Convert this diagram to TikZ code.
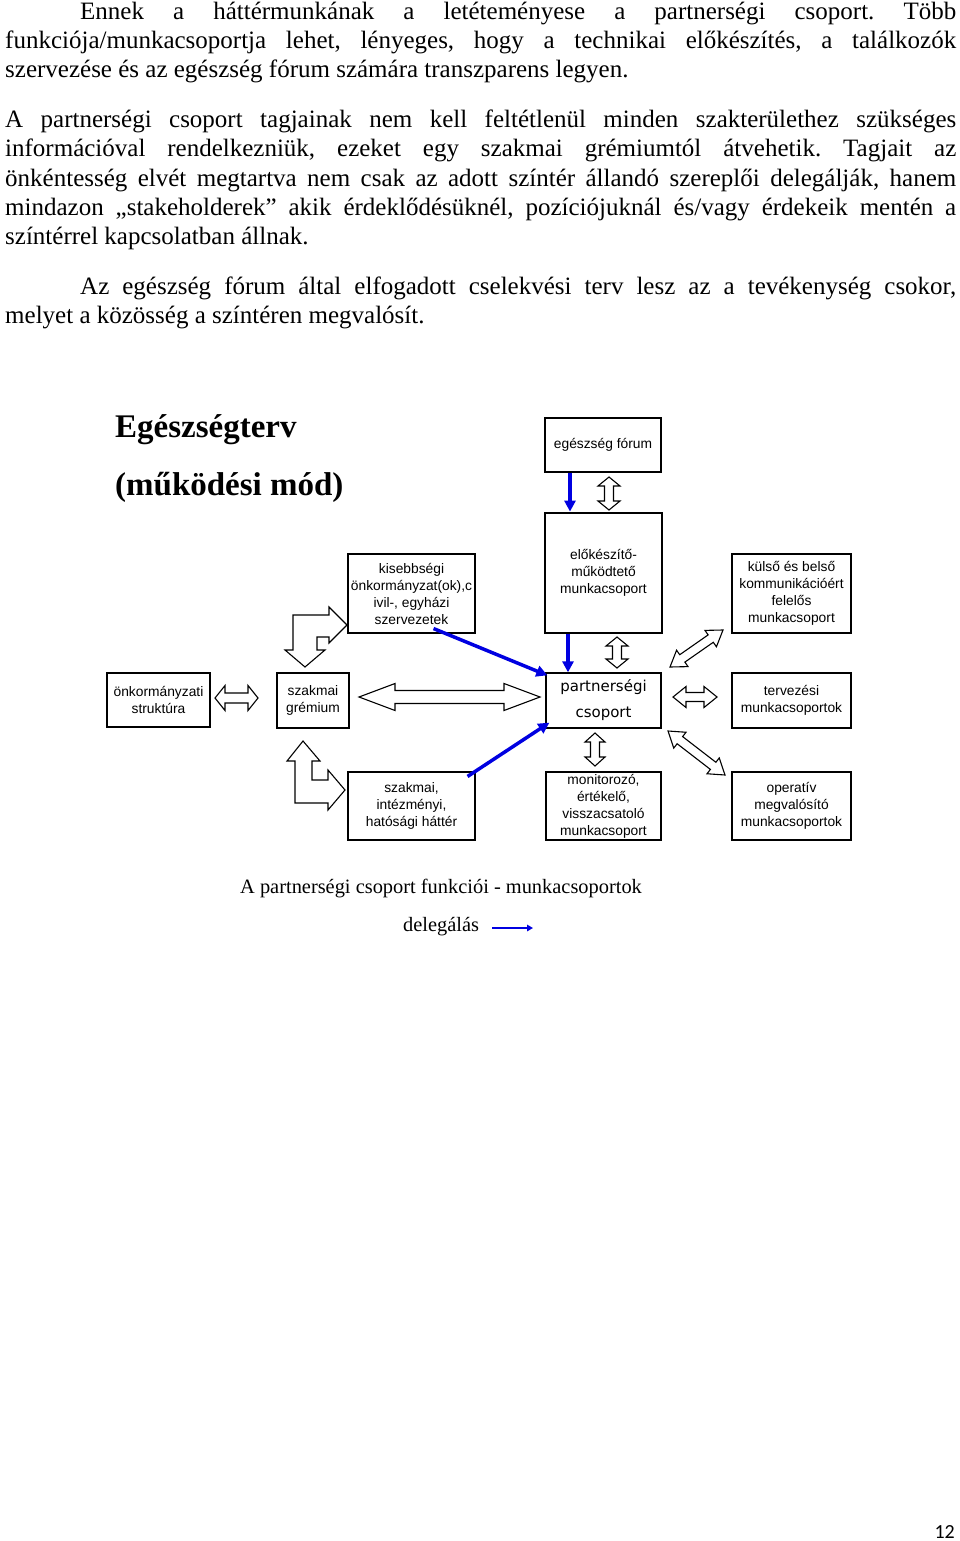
\documentclass[tikz,border=0pt]{standalone}
\usepackage{fontspec}
\setmainfont{Liberation Serif}
\newfontfamily\arialf{Liberation Sans}
\newfontfamily\comicf{DejaVu Sans}
\newfontfamily\calibf{Carlito}
\usetikzlibrary{calc,arrows.meta}
\definecolor{delblue}{RGB}{0,0,225}
\frenchspacing
\newcommand{\bodyf}{\fontsize{25}{29}\selectfont}
\newcommand{\hollowdbl}[5]{%
  \coordinate (hdA) at ($(#1)!#3!(#2)$);
  \coordinate (hdB) at ($(#2)!#3!(#1)$);
  \draw[hollow] (#1) -- ($(hdA)!#4!90:(#2)$) -- ($(hdA)!#5!90:(#2)$)
    -- ($(hdB)!#5!-90:(#1)$) -- ($(hdB)!#4!-90:(#1)$) -- (#2)
    -- ($(hdB)!#4!90:(#1)$) -- ($(hdB)!#5!90:(#1)$)
    -- ($(hdA)!#5!-90:(#2)$) -- ($(hdA)!#4!-90:(#2)$) -- cycle;
}
\tikzset{
  box/.style={draw, line width=1.1pt, inner sep=0pt, align=center,
    font=\arialf\fontsize{13.8}{17}\selectfont},
  thickbox/.style={box, line width=2.8pt},
  hollow/.style={draw, fill=white, line width=1.1pt, line join=miter},
  deleg/.style={draw=delblue, line width=3.5pt, -{Triangle[length=11pt,width=11pt]}, delblue},
  legarrow/.style={draw=delblue, line width=2.2pt, -{Triangle[length=6pt,width=6.5pt]}, delblue},
  bodyline/.style={anchor=base west, inner sep=0pt, font=\bodyf},
}
\begin{document}
\begin{tikzpicture}[x=1pt,y=-1pt]
\useasboundingbox[fill=white] (0,0) rectangle (960,1541);

% body text
\node[bodyline] (l1) at (80,20) {\makebox[876pt][s]{Ennek a háttérmunkának a letéteményese a partnerségi csoport. Több}};
\node[bodyline] (l2) at (5,49) {\makebox[951pt][s]{funkciója/munkacsoportja lehet, lényeges, hogy a technikai előkészítés, a találkozók}};
\node[bodyline] (l3) at (5,78) {szervezése és az egészség fórum számára transzparens legyen.};
\node[bodyline] (l4) at (5,128) {\makebox[951pt][s]{A partnerségi csoport tagjainak nem kell feltétlenül minden szakterülethez szükséges}};
\node[bodyline] (l5) at (5,157) {\makebox[951pt][s]{információval rendelkezniük, ezeket egy szakmai grémiumtól átvehetik. Tagjait az}};
\node[bodyline] (l6) at (5,186) {\makebox[951pt][s]{önkéntesség elvét megtartva nem csak az adott színtér állandó szereplői delegálják, hanem}};
\node[bodyline] (l7) at (5,215) {\makebox[951pt][s]{mindazon „stakeholderek” akik érdeklődésüknél, pozíciójuknál és/vagy érdekeik mentén a}};
\node[bodyline] (l8) at (5,244) {színtérrel kapcsolatban állnak.};
\node[bodyline] (l9) at (80,294) {\makebox[876pt][s]{Az egészség fórum által elfogadott cselekvési terv lesz az a tevékenység csokor,}};
\node[bodyline] (l10) at (5,323) {melyet a közösség a színtéren megvalósít.};

% title
\node[anchor=base west, inner sep=0pt, font=\bfseries\fontsize{33}{40}\selectfont] (t1) at (115,437) {Egészségterv};
\node[anchor=base west, inner sep=0pt, font=\bfseries\fontsize{33}{40}\selectfont] (t2) at (115,495) {(működési mód)};

% boxes
\node[box, minimum width=116pt, minimum height=54pt] (fo) at (603,445) {egészség fórum};
\node[thickbox, minimum width=117pt, minimum height=120pt] (prep) at (603.5,573) {előkészítő-\\működtető\\munkacsoport};
\node[box, minimum width=127pt, minimum height=79pt] (kis) at (411.5,593.5) {kisebbségi\\önkormányzat(ok),c\\ivil-, egyházi\\szervezetek};
\node[box, minimum width=119pt, minimum height=79pt] (kom) at (791.5,593.5) {külső és belső\\kommunikációért\\felelős\\munkacsoport};
\node[box, minimum width=103pt, minimum height=54pt] (onk) at (158.5,700) {önkormányzati\\struktúra};
\node[thickbox, minimum width=72pt, minimum height=55pt] (szg) at (313,700.5) {szakmai\\grémium};
\node[box, line width=1.3pt, minimum width=115pt, minimum height=55pt, font=\comicf\fontsize{15}{26}\selectfont] (part) at (603.5,700.5) {partnerségi\\csoport};
\node[box, minimum width=119pt, minimum height=55pt] (terv) at (791.5,700.5) {tervezési\\munkacsoportok};
\node[box, minimum width=127pt, minimum height=68pt] (hat) at (411.5,806) {szakmai,\\intézményi,\\hatósági háttér};
\node[box, minimum width=115pt, minimum height=68pt] (mon) at (603.5,806) {monitorozó,\\értékelő,\\visszacsatoló\\munkacsoport};
\node[box, minimum width=119pt, minimum height=68pt] (ope) at (791.5,806) {operatív\\megvalósító\\munkacsoportok};

% hollow double arrows
\coordinate (a1s) at (609,477); \coordinate (a1e) at (609,510);
\hollowdbl{a1s}{a1e}{9pt}{11pt}{4.5pt}
\coordinate (a2s) at (617,637); \coordinate (a2e) at (617,668);
\hollowdbl{a2s}{a2e}{9pt}{11pt}{4.5pt}
\coordinate (a3s) at (595,733); \coordinate (a3e) at (595,766);
\hollowdbl{a3s}{a3e}{9pt}{10pt}{4.5pt}
\coordinate (a4s) at (215,698); \coordinate (a4e) at (258,698);
\hollowdbl{a4s}{a4e}{10pt}{12.5pt}{5pt}
\coordinate (a5s) at (359,697); \coordinate (a5e) at (540,697);
\hollowdbl{a5s}{a5e}{36pt}{13.5pt}{6.5pt}
\coordinate (a6s) at (673,697); \coordinate (a6e) at (717,697);
\hollowdbl{a6s}{a6e}{13pt}{10.5pt}{4.5pt}
\coordinate (a7s) at (670,667); \coordinate (a7e) at (723,630);
\hollowdbl{a7s}{a7e}{15pt}{10pt}{4.5pt}
\coordinate (a8s) at (668,731); \coordinate (a8e) at (725,775);
\hollowdbl{a8s}{a8e}{15pt}{10pt}{4.5pt}

% bent arrows
\draw[hollow] (305,667) -- (325,650) -- (317,650) -- (317,637) -- (329,637) -- (329,643)
  -- (347,625) -- (329,607) -- (329,615) -- (293,615) -- (293,650) -- (285,650) -- cycle;
\draw[hollow] (303,741) -- (320,761) -- (312,761) -- (312,780) -- (328,780) -- (328,770)
  -- (345,790) -- (328,810) -- (328,803) -- (295,803) -- (295,761) -- (287,761) -- cycle;

% delegation arrows
\draw[deleg] (570,0 |- fo.south) -- (570,0 |- prep.north);
\draw[deleg] (568,0 |- prep.south) -- (568,0 |- part.north);
\draw[deleg] ($(kis.south east)+(-42,-5)$) -- ($(part.north west)+(2,3)$);
\draw[deleg] ($(hat.north east)+(-8,5)$) -- ($(part.south west)+(4,-6)$);

% caption and legend
\node[anchor=base west, inner sep=0pt, font=\fontsize{20.4}{24}\selectfont] (cap) at (240,893) {A partnerségi csoport funkciói - munkacsoportok};
\node[anchor=base west, inner sep=0pt, font=\fontsize{20.4}{24}\selectfont] (leg) at (403,931) {delegálás};
\coordinate (legA) at (492,928); \coordinate (legB) at (533,928);
\draw[legarrow] (legA) -- (legB);

% page number
\node[anchor=base east, inner sep=0pt, font=\calibf\fontsize{20}{24}\selectfont] (pg) at (955,1538) {12};
\end{tikzpicture}
\end{document}
